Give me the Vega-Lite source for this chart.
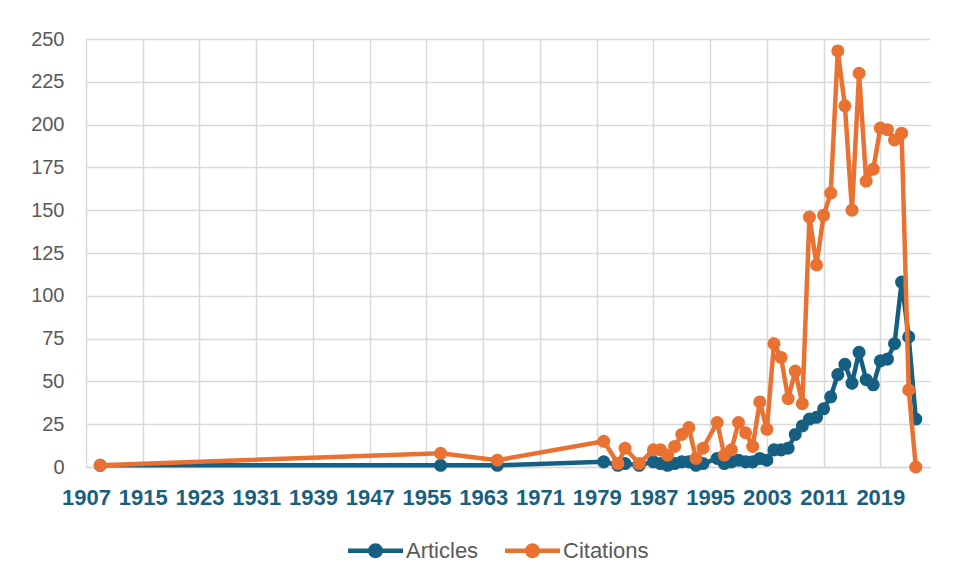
{
  "$schema": "https://vega.github.io/schema/vega-lite/v6.json",
  "width": 844,
  "height": 428,
  "autosize": {"type": "none"},
  "padding": {"left": 86, "top": 39, "right": 43, "bottom": 118},
  "background": "white",
  "config": {
    "view": {"stroke": null},
    "font": "Liberation Sans"
  },
  "data": {
    "values": [
      {"year": 1909, "Articles": 1, "Citations": 1},
      {"year": 1957, "Articles": 1, "Citations": 8},
      {"year": 1965, "Articles": 1, "Citations": 4},
      {"year": 1980, "Articles": 3, "Citations": 15},
      {"year": 1982, "Articles": 1, "Citations": 2},
      {"year": 1983, "Articles": 2, "Citations": 11},
      {"year": 1985, "Articles": 1, "Citations": 2},
      {"year": 1987, "Articles": 3, "Citations": 10},
      {"year": 1988, "Articles": 2, "Citations": 10},
      {"year": 1989, "Articles": 1, "Citations": 7},
      {"year": 1990, "Articles": 2, "Citations": 12},
      {"year": 1991, "Articles": 3, "Citations": 19},
      {"year": 1992, "Articles": 3, "Citations": 23},
      {"year": 1993, "Articles": 1, "Citations": 5},
      {"year": 1994, "Articles": 2, "Citations": 11},
      {"year": 1996, "Articles": 5, "Citations": 26},
      {"year": 1997, "Articles": 2, "Citations": 7},
      {"year": 1998, "Articles": 3, "Citations": 10},
      {"year": 1999, "Articles": 4, "Citations": 26},
      {"year": 2000, "Articles": 3, "Citations": 20},
      {"year": 2001, "Articles": 3, "Citations": 12},
      {"year": 2002, "Articles": 5, "Citations": 38},
      {"year": 2003, "Articles": 4, "Citations": 22},
      {"year": 2004, "Articles": 10, "Citations": 72},
      {"year": 2005, "Articles": 10, "Citations": 64},
      {"year": 2006, "Articles": 11, "Citations": 40},
      {"year": 2007, "Articles": 19, "Citations": 56},
      {"year": 2008, "Articles": 24, "Citations": 37},
      {"year": 2009, "Articles": 28, "Citations": 146},
      {"year": 2010, "Articles": 29, "Citations": 118},
      {"year": 2011, "Articles": 34, "Citations": 147},
      {"year": 2012, "Articles": 41, "Citations": 160},
      {"year": 2013, "Articles": 54, "Citations": 243},
      {"year": 2014, "Articles": 60, "Citations": 211},
      {"year": 2015, "Articles": 49, "Citations": 150},
      {"year": 2016, "Articles": 67, "Citations": 230},
      {"year": 2017, "Articles": 51, "Citations": 167},
      {"year": 2018, "Articles": 48, "Citations": 174},
      {"year": 2019, "Articles": 62, "Citations": 198},
      {"year": 2020, "Articles": 63, "Citations": 197},
      {"year": 2021, "Articles": 72, "Citations": 191},
      {"year": 2022, "Articles": 108, "Citations": 195},
      {"year": 2023, "Articles": 76, "Citations": 45},
      {"year": 2024, "Articles": 28, "Citations": 0}
    ]
  },
  "transform": [
    {"fold": ["Articles", "Citations"], "as": ["series", "value"]}
  ],
  "encoding": {
    "x": {
      "field": "year",
      "type": "quantitative",
      "scale": {"domain": [1907, 2026], "nice": false, "zero": false},
      "axis": {
        "title": null,
        "values": [1907, 1915, 1923, 1931, 1939, 1947, 1955, 1963, 1971, 1979, 1987, 1995, 2003, 2011, 2019],
        "format": "d",
        "grid": true,
        "gridColor": "#d9d9d9",
        "gridWidth": 1.5,
        "domain": true,
        "domainColor": "#d9d9d9",
        "domainWidth": 1.5,
        "ticks": false,
        "labelPadding": 20,
        "labelFontSize": 22,
        "labelFontWeight": "bold",
        "labelColor": "#1b5f7e",
        "labelFlush": false,
        "labelOverlap": false
      }
    },
    "y": {
      "field": "value",
      "type": "quantitative",
      "scale": {"domain": [0, 250], "nice": false},
      "axis": {
        "title": null,
        "values": [0, 25, 50, 75, 100, 125, 150, 175, 200, 225, 250],
        "grid": true,
        "gridColor": "#d9d9d9",
        "gridWidth": 1.5,
        "domain": false,
        "ticks": false,
        "labelPadding": 22,
        "labelFontSize": 20,
        "labelColor": "#595959"
      }
    },
    "color": {
      "field": "series",
      "type": "nominal",
      "scale": {"domain": ["Articles", "Citations"], "range": ["#156082", "#e97132"]},
      "legend": {
        "orient": "none",
        "legendX": 262,
        "legendY": 484,
        "direction": "horizontal",
        "title": null,
        "symbolType": "M-1,-0.08H1V0.08H-1Z M0.27,0A0.27,0.27 0 1,1 -0.27,0A0.27,0.27 0 1,1 0.27,0Z",
        "symbolSize": 3025,
        "symbolStrokeWidth": 0,
        "labelFontSize": 22,
        "labelColor": "#595959",
        "labelOffset": 3,
        "columnPadding": 26,
        "encode": {
          "symbols": {
            "update": {
              "fill": {"scale": "color", "field": "value"},
              "stroke": {"value": "transparent"},
              "opacity": {"value": 1}
            }
          }
        }
      }
    }
  },
  "layer": [
    {
      "transform": [{"filter": "datum.series === 'Articles'"}],
      "mark": {"type": "line", "strokeWidth": 4.5},
      "encoding": {}
    },
    {
      "transform": [{"filter": "datum.series === 'Articles'"}],
      "mark": {"type": "point", "filled": true, "size": 170, "opacity": 1},
      "encoding": {}
    },
    {
      "transform": [{"filter": "datum.series === 'Citations'"}],
      "mark": {"type": "line", "strokeWidth": 4.5},
      "encoding": {}
    },
    {
      "transform": [{"filter": "datum.series === 'Citations'"}],
      "mark": {"type": "point", "filled": true, "size": 170, "opacity": 1},
      "encoding": {}
    }
  ]
}
